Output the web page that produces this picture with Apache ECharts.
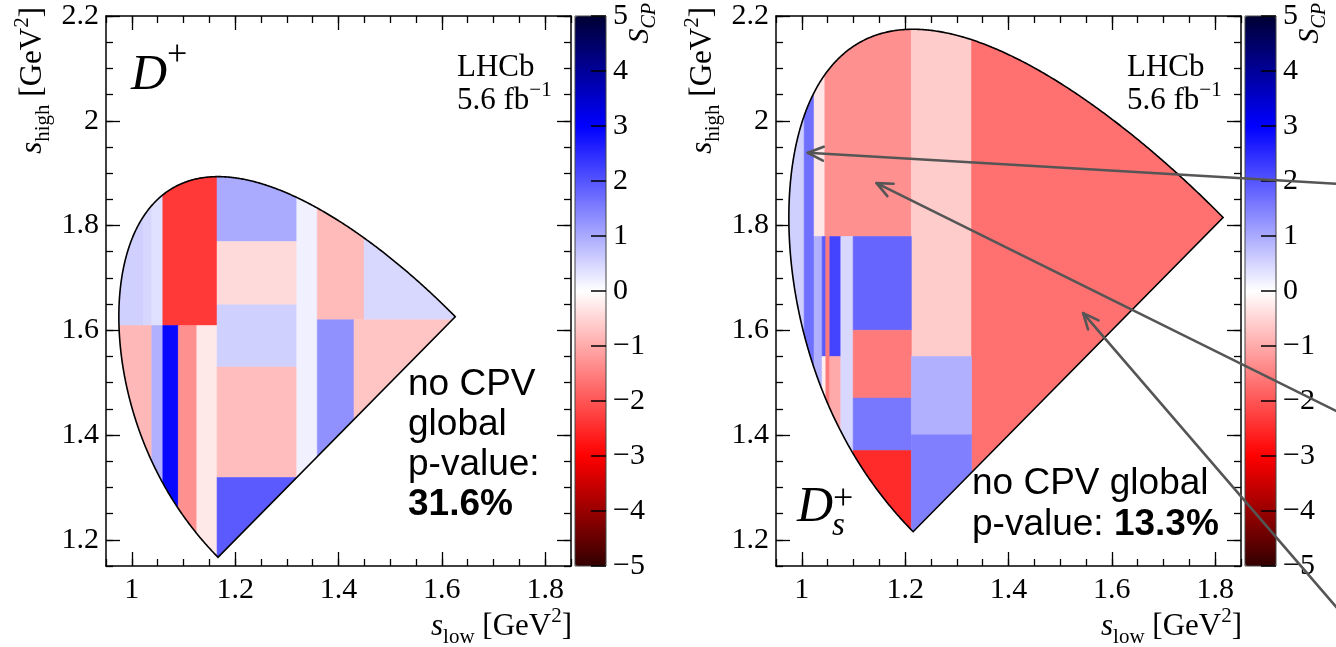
<!DOCTYPE html>
<html>
<head>
<meta charset="utf-8">
<script src="https://cdn.jsdelivr.net/npm/echarts@6/dist/echarts.min.js"></script>
<style>
  html, body { margin: 0; padding: 0; background: #fff; }
  #chart { width: 1336px; height: 647px; }
</style>
</head>
<body>
<div id="chart"></div>
<script>
// Particle masses [GeV] used for the Dalitz-plot boundary of D(s)+ -> K- K+ K+
const M_KAON = 0.493677;
const M_DPLUS = 1.86966;
const M_DSPLUS = 1.96835;

// Axis ticks
const sLowMajorTicks = [1.0, 1.2, 1.4, 1.6, 1.8];
const sLowMinorTicks = [0.95, 1.0, 1.05, 1.1, 1.15, 1.2, 1.25, 1.3, 1.35, 1.4, 1.45, 1.5, 1.55, 1.6, 1.65, 1.7, 1.75, 1.8, 1.85];
const sHighMajorTicks = [1.2, 1.4, 1.6, 1.8, 2.0, 2.2];
const sHighMinorTicks = [1.15, 1.2, 1.25, 1.3, 1.35, 1.4, 1.45, 1.5, 1.55, 1.6, 1.65, 1.7, 1.75, 1.8, 1.85, 1.9, 1.95, 2.0, 2.05, 2.1, 2.15, 2.2];
const scpTicks = [-5, -4, -3, -2, -1, 0, 1, 2, 3, 4, 5];

// Bins: [s_low min, s_low max, s_high min, s_high max, S_CP]
const dplusBins = [
  [0.95, 1.0225, 1.609, 2.30, 0.55],
  [1.0225, 1.0387, 1.609, 2.30, 0.48],
  [1.0387, 1.060, 1.609, 2.30, 0.36],
  [1.060, 1.165, 1.609, 2.30, -2.34],
  [0.95, 1.0387, 1.10, 1.609, -0.84],
  [1.0387, 1.060, 1.10, 1.609, 0.93],
  [1.060, 1.090, 1.10, 1.609, 2.91],
  [1.090, 1.1258, 1.10, 1.609, -1.31],
  [1.1258, 1.165, 1.10, 1.609, -0.27],
  [1.165, 1.3193, 1.7695, 2.30, 1.00],
  [1.165, 1.3193, 1.6486, 1.7695, -0.44],
  [1.165, 1.3193, 1.5297, 1.6486, 0.55],
  [1.165, 1.3193, 1.3189, 1.5297, -0.78],
  [1.165, 1.3193, 1.10, 1.3189, 1.94],
  [1.3193, 1.359, 1.10, 2.30, 0.18],
  [1.359, 1.4496, 1.62, 2.30, -0.81],
  [1.4496, 1.90, 1.62, 2.30, 0.46],
  [1.359, 1.430, 1.10, 1.62, 1.31],
  [1.430, 1.90, 1.10, 1.62, -0.69]
];

const dsplusBins = [
  [0.95, 1.0045, 1.10, 2.30, 0.55],
  [1.0045, 1.0238, 1.10, 2.30, 1.68],
  [1.0238, 1.0445, 1.779, 2.30, -0.30],
  [1.0445, 1.212, 1.779, 2.30, -1.31],
  [1.212, 1.3284, 1.55, 2.30, -0.60],
  [1.3284, 1.90, 1.10, 2.30, -1.68],
  [1.0238, 1.0393, 1.10, 1.779, 0.93],
  [1.0393, 1.0464, 1.55, 1.779, 1.94],
  [1.0393, 1.0464, 1.10, 1.55, -0.20],
  [1.0464, 1.0542, 1.10, 1.779, -1.56],
  [1.0542, 1.0755, 1.55, 1.779, 2.20],
  [1.0542, 1.0755, 1.10, 1.55, -1.00],
  [1.0755, 1.0993, 1.10, 1.779, 0.46],
  [1.0993, 1.212, 1.60, 1.779, 1.80],
  [1.0993, 1.212, 1.4705, 1.60, -1.56],
  [1.0993, 1.212, 1.3705, 1.4705, 1.59],
  [1.0993, 1.212, 1.10, 1.3705, -2.50],
  [1.212, 1.3284, 1.4005, 1.55, 0.93],
  [1.212, 1.3284, 1.10, 1.4005, 1.49]
];

// Pointer arrows on the D_s+ panel: [from s_low, from s_high, to s_low, to s_high]
const dsplusArrows = [
  [2.157, 1.8726, 1.0116, 1.9388],
  [2.157, 1.3860, 1.1446, 1.8810],
  [2.157, 0.9314, 1.5445, 1.6328]
];

// Colour palette for S_CP from -5 to +5
const scpPalette = ['#330000', '#990000', '#ff0000', '#ff5555', '#ffaaaa', '#ffffff',
                    '#aaaaff', '#5555ff', '#0000ff', '#000099', '#000033'];

const SERIF = "'Liberation Serif', 'DejaVu Serif', serif";
const SANS = "'Liberation Sans', Arial, sans-serif";

// ---------- geometry helpers ----------
function clipPoly(poly, f) {
  const out = [];
  for (let i = 0; i < poly.length; i++) {
    const a = poly[i], b = poly[(i + 1) % poly.length];
    const fa = f(a), fb = f(b);
    if (fa >= 0) out.push(a);
    if ((fa >= 0) !== (fb >= 0)) {
      const t = fa / (fa - fb);
      out.push([a[0] + t * (b[0] - a[0]), a[1] + t * (b[1] - a[1])]);
    }
  }
  return out;
}

// Folded Dalitz region (s_high >= s_low) for a parent of mass M decaying to three kaons
function dalitzRegion(M, m) {
  const aMin = 4 * m * m, aMax = (M - m) * (M - m);
  const N = 600, upper = [], lower = [];
  for (let i = 0; i <= N; i++) {
    const a = aMin + (aMax - aMin) * (1 - Math.cos(Math.PI * i / N)) / 2;
    const rs = Math.sqrt(a);
    const e2 = rs / 2;
    const e3 = (M * M - a - m * m) / (2 * rs);
    const p2 = Math.sqrt(Math.max(e2 * e2 - m * m, 0));
    const p3 = Math.sqrt(Math.max(e3 * e3 - m * m, 0));
    upper.push([a, (e2 + e3) ** 2 - (p2 - p3) ** 2]);
    lower.push([a, (e2 + e3) ** 2 - (p2 + p3) ** 2]);
  }
  const full = upper.concat(lower.reverse());
  return clipPoly(full, p => p[1] - p[0]);
}

const regions = [dalitzRegion(M_DPLUS, M_KAON), dalitzRegion(M_DSPLUS, M_KAON)];

// ---------- text helpers ----------
const measureCtx = document.createElement('canvas').getContext('2d');
function fontOf(r) {
  return (r.italic ? 'italic ' : '') + (r.bold ? 'bold ' : '') + r.size + 'px ' + (r.family || SERIF);
}
// A line of text runs (with sub/superscripts); (x, y) is the baseline anchor
function runsGroup(runs, x, y, align, rotation) {
  const widths = runs.map(r => { measureCtx.font = fontOf(r); return measureCtx.measureText(r.t).width + (r.kern || 0); });
  const total = widths.reduce((a, b) => a + b, 0);
  let cx = align === 'right' ? -total : (align === 'center' ? -total / 2 : 0);
  const children = runs.map((r, i) => {
    const el = {
      type: 'text', x: cx, y: (r.dy || 0) - 0.34 * r.size,
      style: { text: r.t, font: fontOf(r), fill: '#000', textAlign: 'left', align: 'left',
               textVerticalAlign: 'middle', verticalAlign: 'middle' }
    };
    cx += widths[i];
    return el;
  });
  return { type: 'group', x: x, y: y, rotation: rotation || 0, children: children };
}

// ---------- layout ----------
const TOP = 16, H = 550, W = 465, CBW = 31;
const LABEL_SIZE = 30, TITLE_SIZE = 31, TITLE_SUB = 21;
const panels = [
  { left: 106, cb: 575, bins: dplusBins },
  { left: 776, cb: 1245, bins: dsplusBins }
];

const fmtNum = v => {
  const s = String(Math.round(v * 100) / 100);
  return s.replace('-', '\u2212');
};

// grid order: 0 D+ map, 1 D+ colour bar, 2 Ds+ map, 3 Ds+ colour bar
const grids = [], xAxes = [], yAxes = [], visualMaps = [], series = [], graphics = [];
const tickStyle = { color: '#000', width: 1.3 };

panels.forEach((p, pi) => {
  const mapGrid = 2 * pi, barGrid = 2 * pi + 1;
  grids.push({ left: p.left, top: TOP, width: W, height: H });
  grids.push({ left: p.cb, top: TOP, width: CBW, height: H, show: true, borderColor: '#444', borderWidth: 1, backgroundColor: 'transparent', z: 6 });

  const base = { gridIndex: mapGrid, type: 'value', min: 0.95, max: 1.85, splitLine: { show: false } };
  const lineOn = { show: true, onZero: false, lineStyle: { color: '#000', width: 1.5 } };
  const lineOff = { show: false, onZero: false };
  xAxes.push(Object.assign({}, base, {
    position: 'bottom', axisLine: lineOn,
    axisTick: { show: true, inside: true, length: 14, customValues: sLowMajorTicks, lineStyle: tickStyle },
    axisLabel: { show: true, customValues: sLowMajorTicks, formatter: fmtNum, margin: 9, fontSize: LABEL_SIZE, fontFamily: SERIF, color: '#000' }
  }));
  xAxes.push(Object.assign({}, base, {
    position: 'bottom', axisLine: lineOff,
    axisTick: { show: true, inside: true, length: 7, customValues: sLowMinorTicks, lineStyle: tickStyle },
    axisLabel: { show: false }
  }));
  xAxes.push(Object.assign({}, base, {
    position: 'top', axisLine: lineOn,
    axisTick: { show: true, inside: true, length: 14, customValues: sLowMajorTicks, lineStyle: tickStyle },
    axisLabel: { show: false }
  }));
  xAxes.push(Object.assign({}, base, {
    position: 'top', axisLine: lineOff,
    axisTick: { show: true, inside: true, length: 7, customValues: sLowMinorTicks, lineStyle: tickStyle },
    axisLabel: { show: false }
  }));
  const ybase = { gridIndex: mapGrid, type: 'value', min: 1.15, max: 2.2, splitLine: { show: false } };
  yAxes.push(Object.assign({}, ybase, {
    position: 'left', axisLine: lineOn,
    axisTick: { show: true, inside: true, length: 14, customValues: sHighMajorTicks, lineStyle: tickStyle },
    axisLabel: { show: true, customValues: sHighMajorTicks, formatter: fmtNum, margin: 7, fontSize: LABEL_SIZE, fontFamily: SERIF, color: '#000' }
  }));
  yAxes.push(Object.assign({}, ybase, {
    position: 'left', axisLine: lineOff,
    axisTick: { show: true, inside: true, length: 7, customValues: sHighMinorTicks, lineStyle: tickStyle },
    axisLabel: { show: false }
  }));
  yAxes.push(Object.assign({}, ybase, {
    position: 'right', axisLine: lineOn,
    axisTick: { show: true, inside: true, length: 14, customValues: sHighMajorTicks, lineStyle: tickStyle },
    axisLabel: { show: false }
  }));
  yAxes.push(Object.assign({}, ybase, {
    position: 'right', axisLine: lineOff,
    axisTick: { show: true, inside: true, length: 7, customValues: sHighMinorTicks, lineStyle: tickStyle },
    axisLabel: { show: false }
  }));
  // Colour-bar scale
  xAxes.push({ gridIndex: barGrid, type: 'value', min: 0, max: 1, show: false });
  yAxes.push({
    gridIndex: barGrid, type: 'value', min: -5, max: 5, interval: 1, position: 'right',
    axisLine: { show: false, onZero: false }, splitLine: { show: false },
    axisTick: { show: false },
    axisLabel: { show: true, customValues: scpTicks, margin: 7, fontSize: LABEL_SIZE, fontFamily: SERIF, color: '#000', formatter: fmtNum }
  });

  const axBase = 5 * pi;
  const region = regions[pi];
  const binSeriesIndex = series.length;
  // Binned S_CP map, each bin clipped to the kinematic boundary
  series.push({
    type: 'custom', coordinateSystem: 'cartesian2d', xAxisIndex: axBase, yAxisIndex: axBase,
    data: p.bins, encode: { x: [0, 1], y: [2, 3] }, silent: true, z: 2,
    renderItem: function (params, api) {
      const x0 = api.value(0), x1 = api.value(1), y0 = api.value(2), y1 = api.value(3);
      let poly = region;
      poly = clipPoly(poly, q => q[0] - x0);
      poly = clipPoly(poly, q => x1 - q[0]);
      poly = clipPoly(poly, q => q[1] - y0);
      poly = clipPoly(poly, q => y1 - q[1]);
      if (poly.length < 3) return null;
      const c = api.visual('color');
      return {
        type: 'polygon', shape: { points: poly.map(q => api.coord(q)) },
        style: { fill: c, stroke: c, lineWidth: 0.6 }
      };
    }
  });
  // Kinematic boundary outline
  series.push({
    type: 'custom', coordinateSystem: 'cartesian2d', xAxisIndex: axBase, yAxisIndex: axBase,
    data: [[1.2, 1.5]], silent: true, z: 3,
    renderItem: function (params, api) {
      return {
        type: 'polygon', shape: { points: region.map(q => api.coord(q)) },
        style: { fill: null, stroke: '#000', lineWidth: 1.6 }
      };
    }
  });
  // Tick marks drawn on the colour bar, pointing in from its right edge
  series.push({
    type: 'custom', coordinateSystem: 'cartesian2d', xAxisIndex: axBase + 4, yAxisIndex: axBase + 4,
    data: scpTicks.map(v => [1, v]), silent: true, z: 30, zlevel: 1, clip: false,
    renderItem: function (params, api) {
      const q = api.coord([1, api.value(1)]);
      return {
        type: 'line', shape: { x1: q[0] - 15, y1: q[1], x2: q[0], y2: q[1] },
        style: { stroke: '#000', lineWidth: 1.5 }
      };
    }
  });

  visualMaps.push({
    type: 'continuous', min: -5, max: 5, dimension: 4, seriesIndex: binSeriesIndex,
    left: p.cb, top: TOP, itemWidth: CBW, itemHeight: H, padding: 0,
    calculable: false, hoverLink: false, text: null, showLabel: false,
    inRange: { color: scpPalette }, z: 2
  });
  graphics.push(runsGroup([{ t: 'S', italic: true, size: 30 }, { t: 'CP', italic: true, size: 20, dy: 7 }],
    p.cb + 75, 3, 'right', Math.PI / 2));

  // Axis titles
  graphics.push(runsGroup([
    { t: 's', italic: true, size: TITLE_SIZE }, { t: 'low', size: TITLE_SUB, dy: 8 },
    { t: ' [GeV', size: TITLE_SIZE }, { t: '2', size: TITLE_SUB, dy: -13 }, { t: ']', size: TITLE_SIZE }
  ], p.left + W + 1, 637, 'right', 0));
  graphics.push(runsGroup([
    { t: 's', italic: true, size: TITLE_SIZE }, { t: 'high', size: TITLE_SUB, dy: 8 },
    { t: ' [GeV', size: TITLE_SIZE }, { t: '2', size: TITLE_SUB, dy: -13 }, { t: ']', size: TITLE_SIZE }
  ], p.left - 63, 7, 'right', Math.PI / 2));

  // Experiment label
  graphics.push(runsGroup([{ t: 'LHCb', size: 31 }], p.left + W - 114, 78, 'left', 0));
  graphics.push(runsGroup([{ t: '5.6 fb', size: 31 }, { t: '\u22121', size: 21, dy: -13 }], p.left + W - 114, 111, 'left', 0));
});

// Panel labels
graphics.push(runsGroup([{ t: 'D', italic: true, size: 50 }, { t: '+', size: 36, dy: -25 }], 131, 93, 'left', 0));
graphics.push(runsGroup([{ t: 'D', italic: true, size: 50 }], 797, 525, 'left', 0));
graphics.push(runsGroup([{ t: '+', size: 36 }], 833, 512, 'left', 0));
graphics.push(runsGroup([{ t: 's', italic: true, size: 33 }], 832, 538, 'left', 0));

// Global p-value statements
graphics.push(runsGroup([{ t: 'no CPV', size: 37, family: SANS }], 408, 397, 'left', 0));
graphics.push(runsGroup([{ t: 'global', size: 37, family: SANS }], 408, 437, 'left', 0));
graphics.push(runsGroup([{ t: 'p-value:', size: 37, family: SANS }], 408, 477, 'left', 0));
graphics.push(runsGroup([{ t: '31.6%', size: 37, bold: true, family: SANS }], 408, 517, 'left', 0));
graphics.push(runsGroup([{ t: 'no CPV global', size: 37, family: SANS }], 972, 496, 'left', 0));
graphics.push(runsGroup([{ t: 'p-value: ', size: 37, family: SANS }, { t: '13.3%', size: 37, bold: true, family: SANS }], 972, 537, 'left', 0));

// Arrows pointing at bins in the D_s+ map
series.push({
  type: 'custom', coordinateSystem: 'cartesian2d', xAxisIndex: 5, yAxisIndex: 5,
  data: dsplusArrows, encode: { x: [0, 2], y: [1, 3] }, clip: false, silent: true, z: 40, zlevel: 1,
  renderItem: function (params, api) {
    const a = api.coord([api.value(0), api.value(1)]);
    const b = api.coord([api.value(2), api.value(3)]);
    const ang = Math.atan2(a[1] - b[1], a[0] - b[0]);
    const L = 17, spread = 0.42;
    const h1 = [b[0] + L * Math.cos(ang + spread), b[1] + L * Math.sin(ang + spread)];
    const h2 = [b[0] + L * Math.cos(ang - spread), b[1] + L * Math.sin(ang - spread)];
    const st = { stroke: '#555', lineWidth: 2.6, fill: null, lineCap: 'round', lineJoin: 'round' };
    return {
      type: 'group', children: [
        { type: 'line', shape: { x1: a[0], y1: a[1], x2: b[0], y2: b[1] }, style: st },
        { type: 'polyline', shape: { points: [h1, b, h2] }, style: st }
      ]
    };
  }
});

const chart = echarts.init(document.getElementById('chart'), null, { renderer: 'canvas' });
chart.setOption({
  animation: false,
  backgroundColor: '#fff',
  grid: grids,
  xAxis: xAxes,
  yAxis: yAxes,
  visualMap: visualMaps,
  series: series,
  graphic: { elements: graphics }
});
</script>
</body>
</html>
